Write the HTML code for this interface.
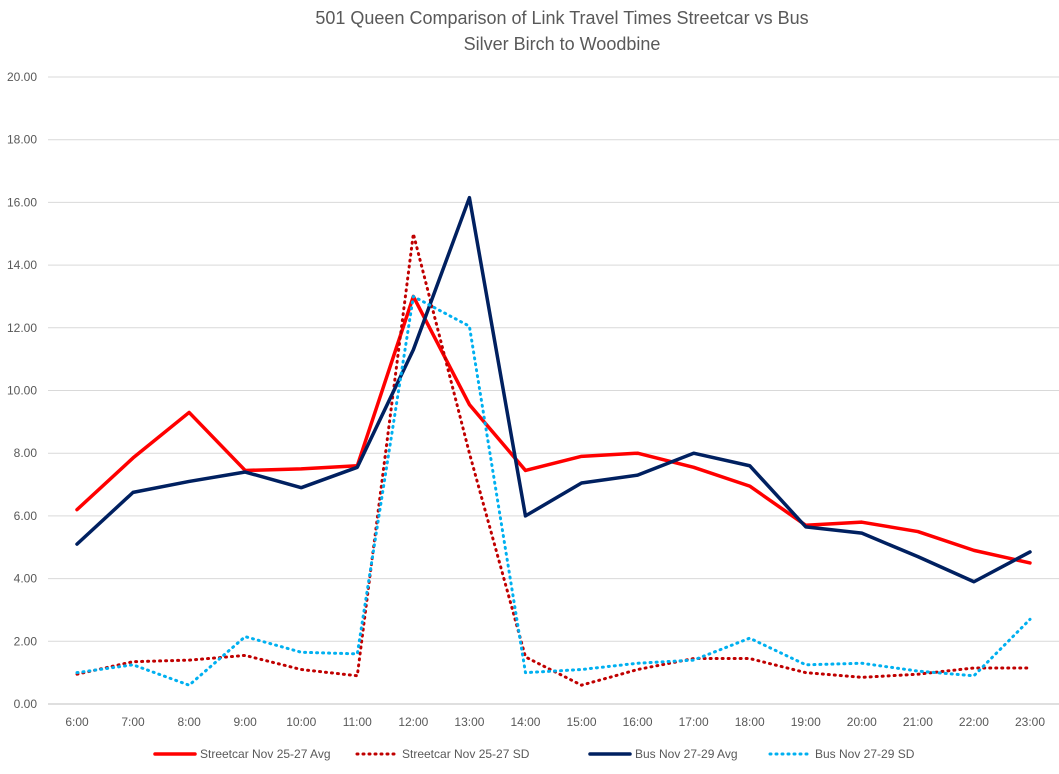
<!DOCTYPE html>
<html><head><meta charset="utf-8"><style>
body{margin:0;background:#fff;font-family:"Liberation Sans",sans-serif;}
svg text{font-family:"Liberation Sans",sans-serif;}
</style></head><body>
<svg id="chart" width="1059" height="769">
<text x="562" y="24" text-anchor="middle" font-size="18" fill="#595959">501 Queen Comparison of Link Travel Times Streetcar vs Bus</text>
<text x="562" y="50" text-anchor="middle" font-size="18" fill="#595959">Silver Birch to Woodbine</text>
<g id="grid"></g><g id="series"></g><g id="legend"></g>
</svg>
<script>
const categories=["6:00","7:00","8:00","9:00","10:00","11:00","12:00","13:00","14:00","15:00","16:00","17:00","18:00","19:00","20:00","21:00","22:00","23:00"];
const yTicks=[0,2,4,6,8,10,12,14,16,18,20];
const streetcarAvg=[6.2,7.85,9.3,7.45,7.5,7.6,13.0,9.55,7.45,7.9,8.0,7.55,6.95,5.7,5.8,5.5,4.9,4.5];
const streetcarSD=[0.95,1.35,1.4,1.55,1.1,0.9,15.0,8.0,1.5,0.6,1.1,1.45,1.45,1.0,0.85,0.95,1.15,1.15];
const busAvg=[5.1,6.75,7.1,7.4,6.9,7.55,11.3,16.15,6.0,7.05,7.3,8.0,7.6,5.65,5.45,4.7,3.9,4.85];
const busSD=[1.0,1.25,0.6,2.15,1.65,1.6,13.0,12.05,1.0,1.1,1.3,1.4,2.1,1.25,1.3,1.05,0.9,2.7];
const NS="http://www.w3.org/2000/svg";
const x0=77,x1=1030,y0=704,y1=77,ymax=20;
const xs=i=>x0+i*(x1-x0)/(categories.length-1);
const ys=v=>y0-v*(y0-y1)/ymax;
function mk(t,a,p){const e=document.createElementNS(NS,t);for(const k in a)e.setAttribute(k,a[k]);p.appendChild(e);return e;}
const grid=document.getElementById('grid');
yTicks.forEach(v=>{
 const l=mk('line',{x1:48,x2:1059,y1:ys(v),y2:ys(v),stroke:v===0?'#bfbfbf':'#d9d9d9','stroke-width':1},grid);
 
 
 const t=mk('text',{x:37,y:ys(v)+4,'text-anchor':'end','font-size':12,fill:'#595959'},grid);
 t.textContent=v.toFixed(2);
 
 
});
categories.forEach((c,i)=>{
 const t=mk('text',{x:xs(i),y:726,'text-anchor':'middle','font-size':12,fill:'#595959'},grid);
 t.textContent=c;
 
 
});
const defs=[
 {d:streetcarAvg,c:'#ff0000',w:3.5,dash:null,n:'Streetcar Nov 25-27 Avg',id:'streetcar-avg'},
 {d:streetcarSD,c:'#c00000',w:3,dash:'1 5',n:'Streetcar Nov 25-27 SD',id:'streetcar-sd'},
 {d:busAvg,c:'#002060',w:3.5,dash:null,n:'Bus Nov 27-29 Avg',id:'bus-avg'},
 {d:busSD,c:'#00b0f0',w:3,dash:'1 5',n:'Bus Nov 27-29 SD',id:'bus-sd'}];
const sg=document.getElementById('series'),lg=document.getElementById('legend');
const lx=[155,357,590,770];
defs.forEach((s,k)=>{
 const a={points:s.d.map((v,i)=>xs(i)+','+ys(v)).join(' '),fill:'none',stroke:s.c,'stroke-width':s.w,'stroke-linejoin':'round','stroke-linecap':'round'};
 if(s.dash)a['stroke-dasharray']=s.dash;
 const p=mk('polyline',a,sg);
 
 
 const la={x1:lx[k],x2:lx[k]+40,y1:754,y2:754,stroke:s.c,'stroke-width':s.w,'stroke-linecap':'round'};
 if(s.dash)la['stroke-dasharray']=s.dash;
 const g=mk('g',{},lg);
 
 
 mk('line',la,g);
 const t=mk('text',{x:lx[k]+45,y:758,'font-size':12,fill:'#595959'},g);
 t.textContent=s.n;
});
</script>
</body></html>
